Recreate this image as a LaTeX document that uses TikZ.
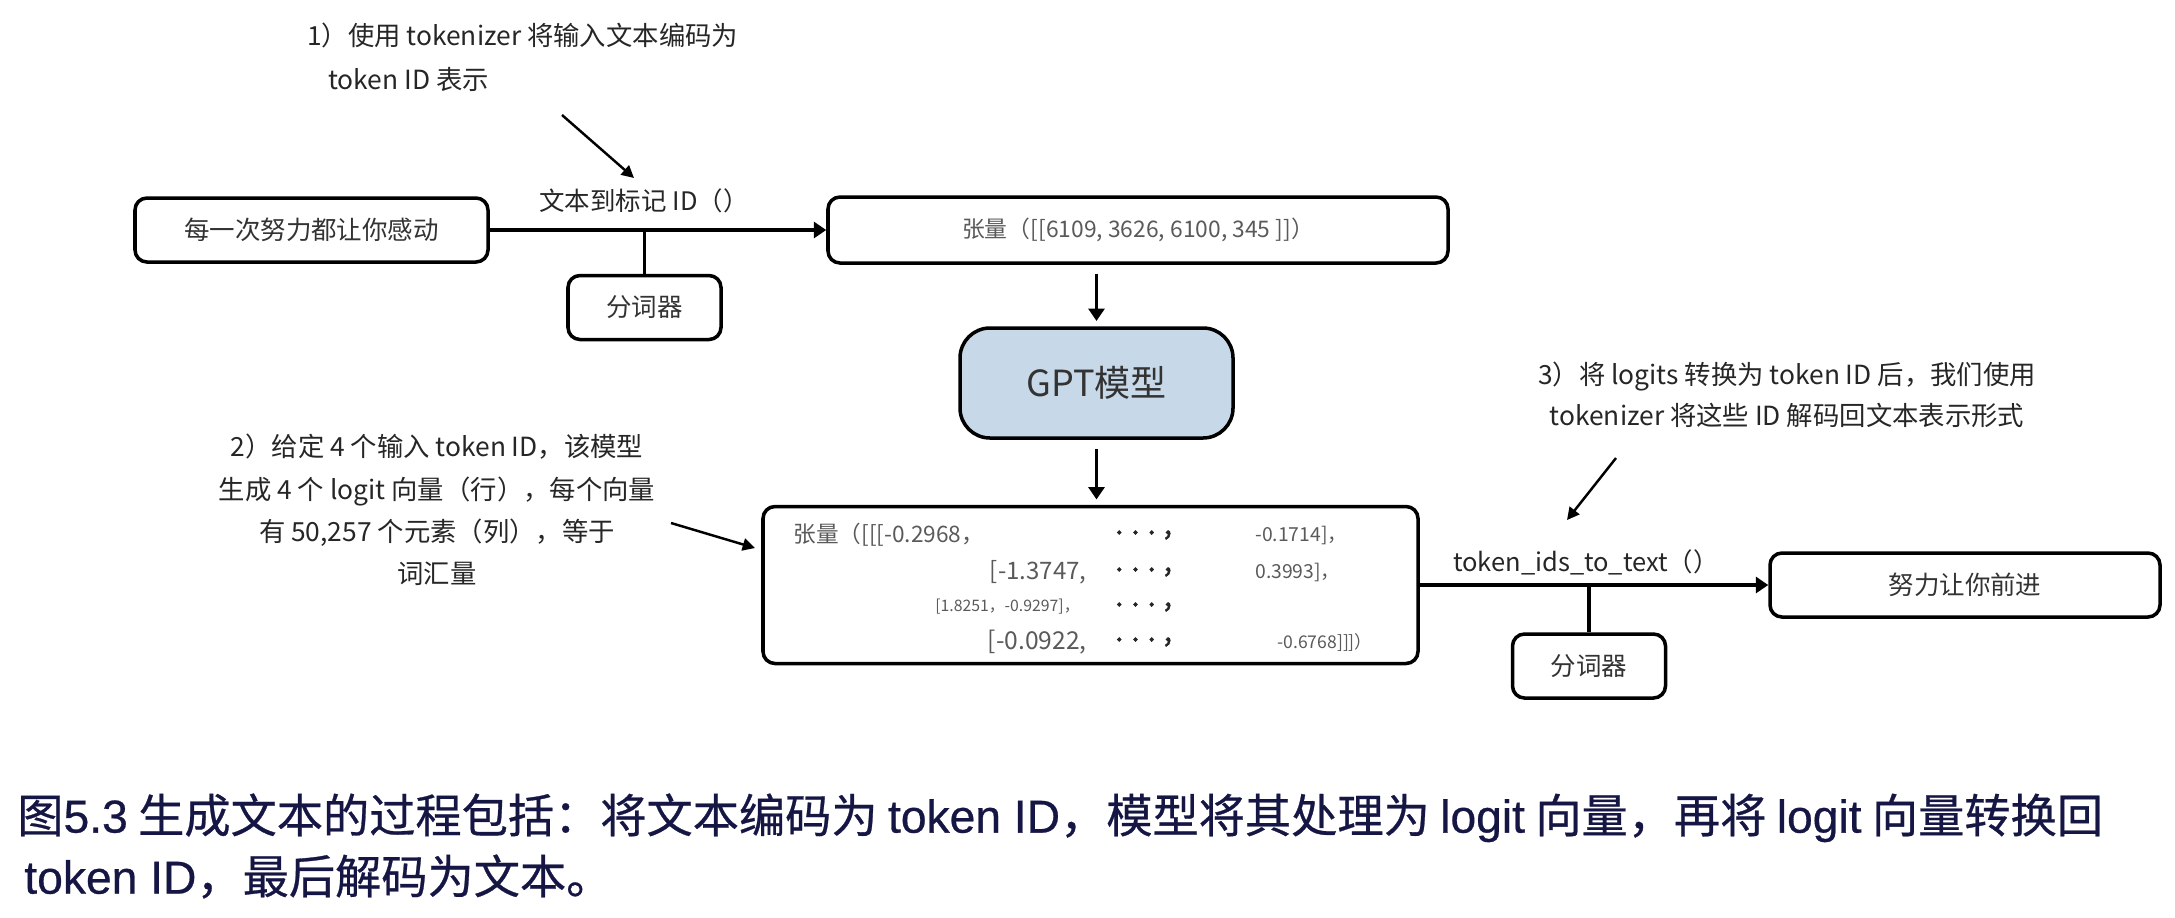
\documentclass[tikz,border=0pt]{standalone}
\usepackage{fontspec}
\setmainfont{Noto Sans CJK SC}
\newfontfamily\latfont[FakeBold=0.6]{Liberation Sans}
\newfontfamily\capfont[FakeBold=0.6]{Noto Sans CJK SC}
\newfontfamily\dotfont[FakeBold=2.5]{Noto Sans CJK SC}
\usepackage{xcolor}
\usetikzlibrary{arrows.meta}
\definecolor{gptblue}{HTML}{C7D8E8}
\definecolor{valgray}{HTML}{5A5A5A}
\definecolor{capnavy}{HTML}{161645}
\newcommand{\la}[1]{{\latfont #1}}
\tikzset{
  strbox/.style={
    draw,
    rounded corners=2.4mm,
    line width=2pt,
    minimum height=12.8mm,
    text=black!80,
    font=\fontsize{14.5pt}{17pt}\selectfont,
  },
  tokbox/.style={strbox, minimum width=30.6mm},
  tensbox/.style={
    draw,
    rounded corners=2.4mm,
    line width=2pt,
    text=valgray,
  },
  modelbox/.style={
    draw,
    rounded corners=6mm,
    line width=2pt,
    fill=gptblue,
    minimum width=54.6mm,
    minimum height=22mm,
    text=black!80,
    font=\fontsize{20.5pt}{24pt}\selectfont,
  },
  val/.style={text=valgray, inner sep=0pt},
  dots/.style={text=black!85, inner sep=0pt, font=\dotfont\fontsize{16pt}{18pt}\selectfont},
  fnlabel/.style={text=black!85, font=\fontsize{14.5pt}{17pt}\selectfont},
  note/.style={align=center, text=black!85},
  flow/.style={line width=2pt, -{Triangle[length=7pt,width=9pt]}},
  tap/.style={line width=2pt},
  callout/.style={line width=1.4pt, -{Triangle[length=7pt,width=7pt]}},
}
\begin{document}
\begin{tikzpicture}[x=0.2mm, y=-0.2mm]
  \useasboundingbox (0,0) rectangle (2175,917);
  % text to ids
  \node[strbox, minimum width=70.6mm] (inp) at (311.5,230) {每一次努力都让你感动};
  \node[tensbox, minimum width=124mm, minimum height=13.2mm,
        font=\fontsize{13pt}{15pt}\selectfont] (ids) at (1138,230) {张量（[[6109, 3626, 6100, 345 ]]）};
  \node[tokbox] (tok1) at (644.5,307.5) {分词器};
  \node[fnlabel] (enc) at (644,201) {文本到标记 ID（）};
  \draw[flow] (inp.east) -- (ids.west |- inp.east);
  \draw[tap] (tok1.north) -- (tok1.north |- inp.east);
  % model
  \node[modelbox] (gpt) at (1096.5,383) {GPT模型};
  \draw[flow, shorten <=5pt, shorten >=3pt] (gpt.north |- ids.south) -- (gpt.north);
  \node[tensbox, minimum width=131mm, minimum height=31.4mm] (logits) at (1090.5,585) {};
  \draw[flow, shorten <=5pt, shorten >=3pt] (gpt.south) -- (gpt.south |- logits.north);
  % logit values
  \node[val, anchor=west, font=\fontsize{12.9pt}{15pt}\selectfont] (r1a) at (793,535) {张量（[[[-0.2968，};
  \node[val, anchor=east, font=\fontsize{13.7pt}{16pt}\selectfont] (r2a) at (1087,572) {[-1.3747,};
  \node[val, anchor=east, font=\fontsize{9pt}{11pt}\selectfont] (r3a) at (1080,607) {[1.8251，-0.9297]，};
  \node[val, anchor=east, font=\fontsize{14pt}{16pt}\selectfont] (r4a) at (1087,642) {[-0.0922,};
  \node[dots, anchor=west] (r1b) at (1115,535) {. . . ,};
  \node[dots, anchor=west] (r2b) at (1115,572) {. . . ,};
  \node[dots, anchor=west] (r3b) at (1115,607) {. . . ,};
  \node[dots, anchor=west] (r4b) at (1115,642) {. . . ,};
  \node[val, anchor=west, font=\fontsize{11pt}{13pt}\selectfont] (r1c) at (1255,535) {-0.1714]，};
  \node[val, anchor=west, font=\fontsize{11pt}{13pt}\selectfont] (r2c) at (1255,572) {0.3993]，};
  \node[val, anchor=west, font=\fontsize{10pt}{12pt}\selectfont] (r4c) at (1277,642) {-0.6768]]]）};
  % ids to text
  \node[strbox, minimum width=78mm] (out) at (1965,585) {努力让你前进};
  \node[tokbox] (tok2) at (1589,666) {分词器};
  \node[fnlabel] (dec) at (1586,562) {token\_ids\_to\_text（）};
  \draw[flow] (logits.east) -- (out.west);
  \draw[tap] (tok2.north) -- (tok2.north |- out.west);
  % notes
  \node[note, align=left, anchor=west, font=\fontsize{15pt}{25pt}\selectfont] (n1) at (301,57)
    {1）使用 tokenizer 将输入文本编码为\\\hspace*{4.2mm}token ID 表示};
  \coordinate (n1tail) at (562,115);
  \coordinate (n1head) at (634,178);
  \draw[callout] (n1tail) -- (n1head);
  \node[note, font=\fontsize{15pt}{24pt}\selectfont] (n2) at (437,510)
    {2）给定 4 个输入 token ID，该模型\\生成 4 个 logit 向量（行），每个向量\\有 50,257 个元素（列），等于\\词汇量};
  \coordinate (n2tail) at (671,523);
  \coordinate (n2head) at (755,548);
  \draw[callout] (n2tail) -- (n2head);
  \node[note, font=\fontsize{15pt}{23.3pt}\selectfont] (n3) at (1787,395)
    {3）将 logits 转换为 token ID 后，我们使用\\tokenizer 将这些 ID 解码回文本表示形式};
  \coordinate (n3tail) at (1616,458);
  \coordinate (n3head) at (1567,520);
  \draw[callout] (n3tail) -- (n3head);
  % caption
  \node[anchor=west, align=left, inner sep=0pt, text=capnavy, font=\capfont\fontsize{26.3pt}{34.7pt}\selectfont] (cap) at (17,846)
    {图\la{5.3} 生成文本的过程包括：将文本编码为 \la{token ID}，模型将其处理为 \la{logit} 向量，再将 \la{logit} 向量转换回\\\hspace*{1.4mm}\la{token ID}，最后解码为文本。};
\end{tikzpicture}
\end{document}
